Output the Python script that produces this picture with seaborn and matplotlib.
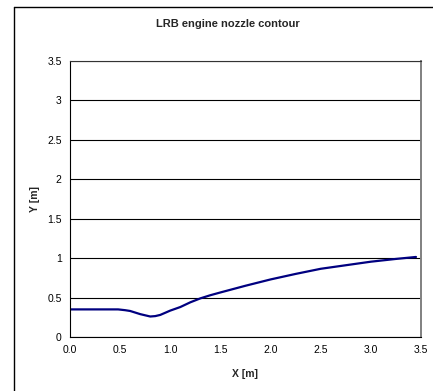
import numpy as np
import pandas as pd
import matplotlib
matplotlib.use("Agg")
import matplotlib.pyplot as plt
import seaborn as sns
from matplotlib.lines import Line2D

# Data
x_m = [0.0, 0.1, 0.2, 0.3, 0.4, 0.48, 0.55, 0.6, 0.7, 0.8, 0.85, 0.9, 1.0,
       1.1, 1.2, 1.3, 1.4, 1.5, 1.75, 2.0, 2.25, 2.5, 2.75, 3.0, 3.25, 3.45]
y_m = [0.35, 0.35, 0.35, 0.35, 0.35, 0.35, 0.34, 0.33, 0.29, 0.26, 0.265, 0.28, 0.335,
       0.38, 0.44, 0.49, 0.53, 0.565, 0.65, 0.73, 0.80, 0.865, 0.91, 0.955, 0.99, 1.015]
x_ticks = [0.0, 0.5, 1.0, 1.5, 2.0, 2.5, 3.0, 3.5]
y_ticks = [0, 0.5, 1, 1.5, 2, 2.5, 3, 3.5]
x_labels = ["0.0", "0.5", "1.0", "1.5", "2.0", "2.5", "3.0", "3.5"]
y_labels = ["0", "0.5", "1", "1.5", "2", "2.5", "3", "3.5"]

df = pd.DataFrame({"X": x_m, "Y": y_m})

sns.set_style("white")
plt.rcParams['font.family'] = ['Liberation Sans', 'DejaVu Sans']

fig = plt.figure(figsize=(4.33, 3.91), dpi=100)
ax = fig.add_axes([70/433, 54/391, 351/433, 276/391])

# outer chart-area frame: only left and top edges fall inside the image
fx, fy = 13.5/433, 1 - 6.5/391
fig.lines.append(Line2D([fx, fx], [0, fy], transform=fig.transFigure,
                        color='black', linewidth=1.0))
fig.lines.append(Line2D([fx, 1], [fy, fy], transform=fig.transFigure,
                        color='black', linewidth=1.0))

sns.lineplot(x="X", y="Y", data=df, ax=ax, color='#000080', linewidth=1.6)

ax.set_xlim(0, 3.5)
ax.set_ylim(0, 3.5)
ax.set_xticks(x_ticks)
ax.set_xticklabels(x_labels)
ax.set_yticks(y_ticks)
ax.set_yticklabels(y_labels)
ax.yaxis.grid(True, color='black', linewidth=0.8)
ax.xaxis.grid(False)
ax.tick_params(axis='both', direction='out', length=3, width=0.8,
               labelsize=7.5, colors='black', pad=3)
for s in ax.spines.values():
    s.set_color('black')
    s.set_linewidth(0.8)
ax.spines['top'].set_color('#333333')
ax.spines['right'].set_color('#808080')
ax.spines['right'].set_linewidth(1.4)

ax.set_xlabel("X [m]", fontsize=7.5, fontweight='bold', labelpad=9.5)
ax.set_ylabel("Y [m]", fontsize=7.5, fontweight='bold', labelpad=5.5)
fig.text(228/433, 1 - 24/391, "LRB engine nozzle contour", ha='center', va='center',
         fontsize=8, fontweight='bold')

fig.savefig("out.png", dpi=100)
